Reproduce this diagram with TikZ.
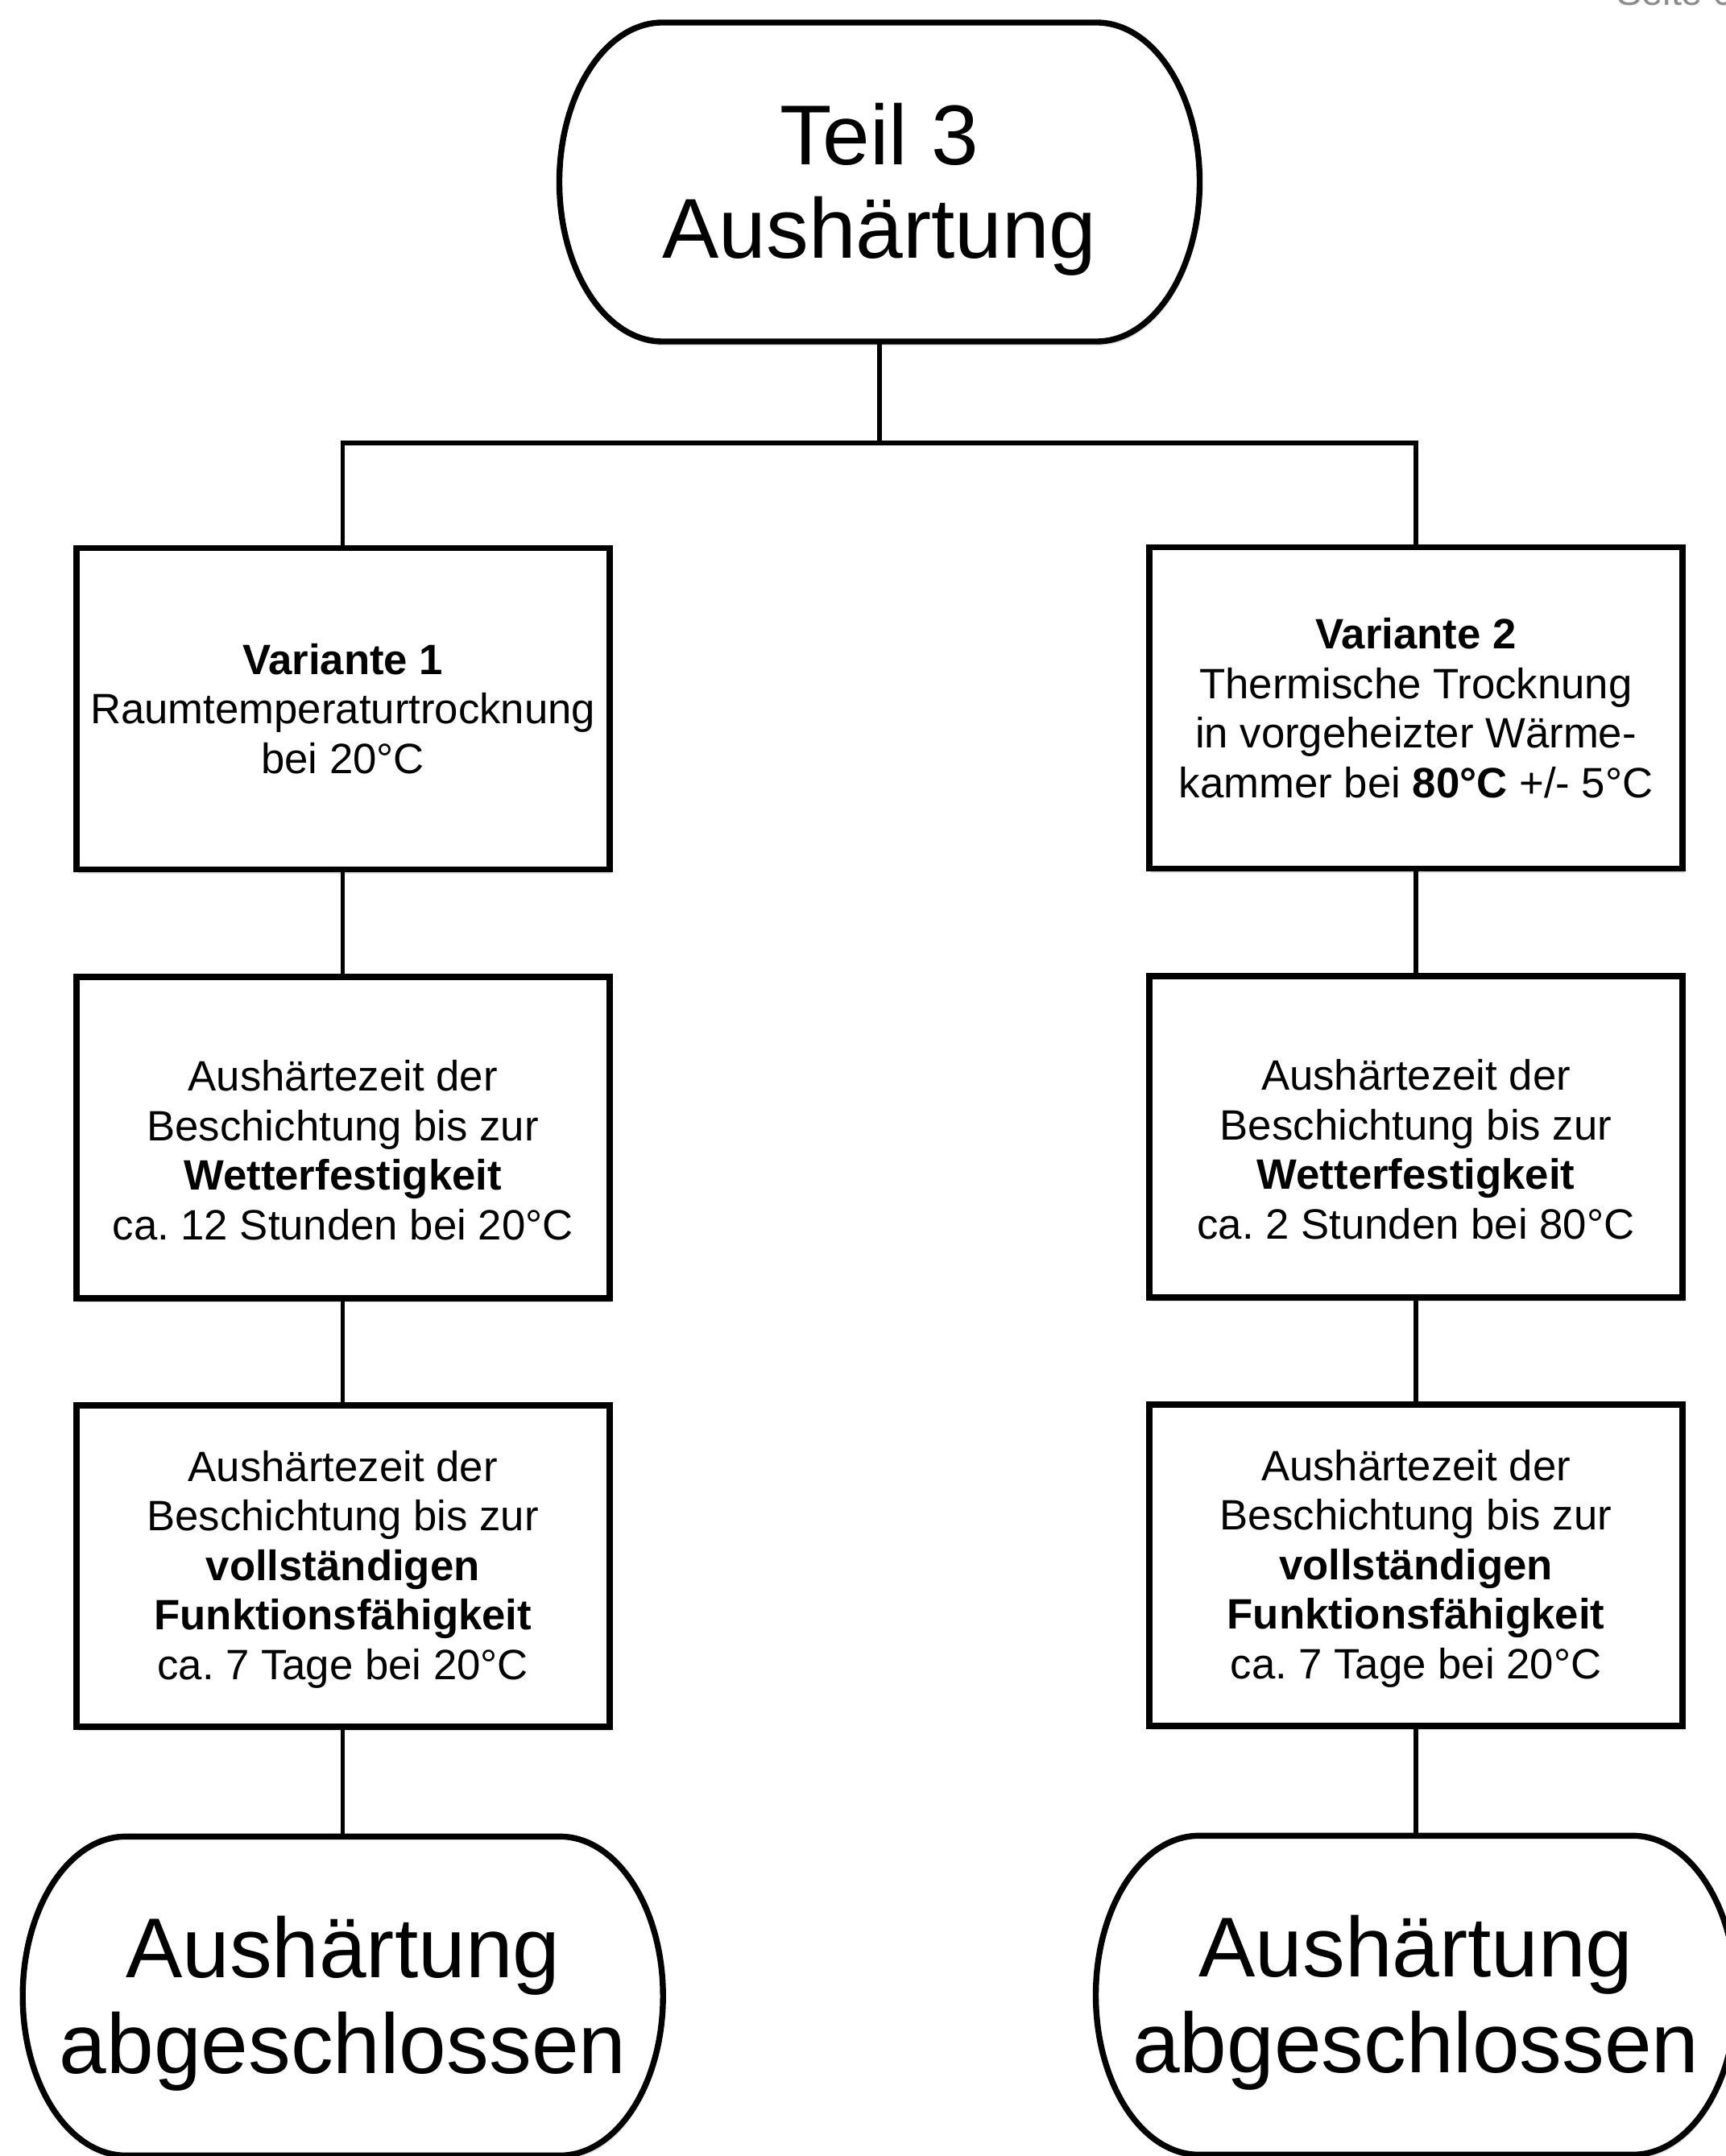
\documentclass[tikz,border=0pt]{standalone}
\usepackage{fontspec}
\setmainfont{Liberation Sans}
\usepackage{tikz}
\usetikzlibrary{positioning, calc, shadows, backgrounds}
\frenchspacing

\definecolor{pagegray}{RGB}{138,140,142}

\tikzset{
	softshadow/.style = {drop shadow = {shadow xshift = 0.02cm, shadow yshift = -0.05cm, opacity = 0.3, fill = black!40}},
	box/.style = {draw, line width = 2.2pt, fill = white, softshadow, align = center, minimum width = 6.62cm, minimum height = 3.99cm, inner sep = 0pt, font = \fontsize{15}{17.5}\selectfont},
	term/.style = {align = center, minimum width = 7.95cm, minimum height = 3.96cm, outer sep = 0pt, inner sep = 0pt},
	termline/.style = {line width = 2.1pt, fill = white, softshadow},
	conn/.style = {line width = 1.5pt},
}

\begin{document}
\begin{tikzpicture}
	\useasboundingbox (0, 0) rectangle (21.42, -26.77);
	\node [anchor = base west, text = pagegray, font = \fontsize{13.3}{15}\selectfont] (seite) at (19.95, -0.07) {Seite 6};

	\node [term, font = \fontsize{30}{33}\selectfont] (top) at (10.92, -2.26) {\rule{0pt}{0.94cm}Teil 3\\Aushärtung};
	\coordinate (bus) at (10.92, -5.50);

	\node [box] (v1) at (4.257, -8.80) {\textbf{Variante 1}\\Raumtemperaturtrocknung\\bei 20°C};
	\node [box, below = 1.255cm of v1] (z1) {\rule{0pt}{0.70cm}Aushärtezeit der\\Beschichtung bis zur\\\textbf{Wetterfestigkeit}\\ca. 12 Stunden bei 20°C};
	\node [box, below = 1.255cm of z1] (f1) {\rule{0pt}{0.465cm}Aushärtezeit der\\Beschichtung bis zur\\\textbf{vollständigen}\\\textbf{Funktionsfähigkeit}\\ca. 7 Tage bei 20°C};
	\node [term, below = 1.325cm of f1, font = \fontsize{30}{34}\selectfont] (e1) {\rule{0pt}{0.95cm}Aushärtung\\abgeschlossen};

	\node [box] (v2) at (17.58, -8.79) {\textbf{Variante 2}\\Thermische Trocknung\\in vorgeheizter Wärme-\\kammer bei \textbf{80°C} +/- 5°C};
	\node [box, below = 1.255cm of v2] (z2) {\rule{0pt}{0.70cm}Aushärtezeit der\\Beschichtung bis zur\\\textbf{Wetterfestigkeit}\\ca. 2 Stunden bei 80°C};
	\node [box, below = 1.255cm of z2] (f2) {\rule{0pt}{0.465cm}Aushärtezeit der\\Beschichtung bis zur\\\textbf{vollständigen}\\\textbf{Funktionsfähigkeit}\\ca. 7 Tage bei 20°C};
	\node [term, below = 1.325cm of f2, font = \fontsize{30}{34}\selectfont] (e2) {\rule{0pt}{0.95cm}Aushärtung\\abgeschlossen};

	\begin{scope}[on background layer]
		\foreach \t in {top, e1, e2}
			\draw [termline] ($(\t.north west) + (1.28, 0)$) -- ($(\t.north east) + (-1.28, 0)$) arc [start angle = 90, end angle = -90, x radius = 1.28, y radius = 1.98] -- ($(\t.south west) + (1.28, 0)$) arc [start angle = 270, end angle = 90, x radius = 1.28, y radius = 1.98] -- cycle;
	\end{scope}

	\draw [conn] (top.south) -- (bus);
	\draw [conn] (v1.north) |- (bus) -| (v2.north);
	\draw [conn] (v1) -- (z1);
	\draw [conn] (z1) -- (f1);
	\draw [conn] (f1) -- (e1);
	\draw [conn] (v2) -- (z2);
	\draw [conn] (z2) -- (f2);
	\draw [conn] (f2) -- (e2);
%	\draw [conn] (top.south) -- ++(0, -1.27);
\end{tikzpicture}
\end{document}
